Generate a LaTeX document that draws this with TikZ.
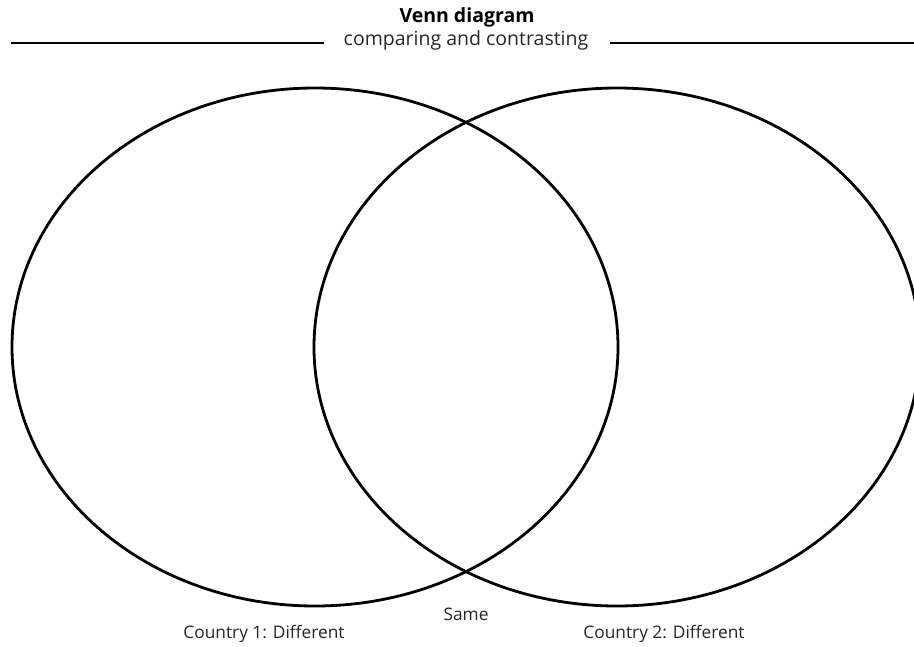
\documentclass[tikz,border=0pt]{standalone}
\usepackage{fontspec}
\setmainfont{Open Sans}
\begin{document}
\begin{tikzpicture}[x=1pt,y=-1pt,
  circ/.style={line width=2.8pt,black},
  rule/.style={line width=1.8pt,black},
  lbl/.style={font=\fontsize{17.3}{19}\selectfont,text=black!85,inner sep=0pt},
  sublbl/.style={font=\fontsize{19.5}{21}\selectfont,text=black!85,inner sep=0pt}]
\useasboundingbox (0,0) rectangle (914,646);
\node[font=\fontsize{19.5}{21}\selectfont\bfseries,inner sep=0pt] (title) at (467,17) {Venn diagram};
\node[sublbl] (sub) at (466,40) {comparing and contrasting};
\coordinate (l1) at (11,43);
\coordinate (l2) at (324,43);
\coordinate (r1) at (610,43);
\coordinate (r2) at (914,43);
\draw[rule] (l1) -- (l2);
\draw[rule] (r1) -- (r2);
\draw[circ] (315,347) ellipse [x radius=303, y radius=259];
\draw[circ] (617,347) ellipse [x radius=303, y radius=259];
\node[lbl] (same) at (466,614) {Same};
\node[lbl] (c1) at (264,634) {Country 1: Different};
\node[lbl] (c2) at (664,634) {Country 2: Different};
\end{tikzpicture}
\end{document}
